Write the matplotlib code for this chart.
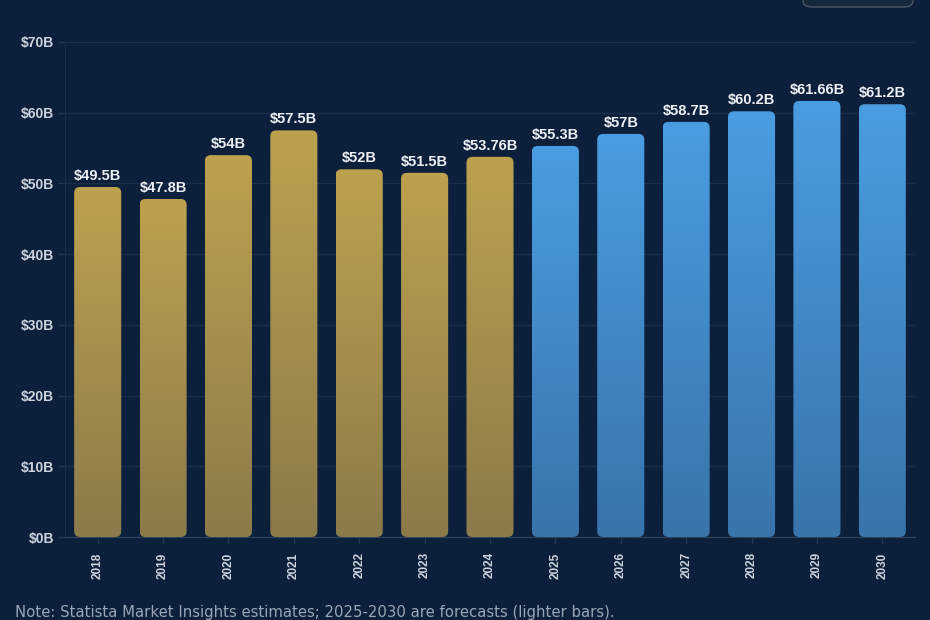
import numpy as np
import matplotlib.pyplot as plt
from matplotlib.patches import FancyBboxPatch
from matplotlib.colors import LinearSegmentedColormap

plt.rcParams['font.family'] = ['Liberation Sans', 'DejaVu Sans']

# Data (USD billions)
years = ["2018", "2019", "2020", "2021", "2022", "2023", "2024",
         "2025", "2026", "2027", "2028", "2029", "2030"]
values = [49.5, 47.8, 54, 57.5, 52, 51.5, 53.76,
          55.3, 57, 58.7, 60.2, 61.66, 61.2]
labels = ["$49.5B", "$47.8B", "$54B", "$57.5B", "$52B", "$51.5B", "$53.76B",
          "$55.3B", "$57B", "$58.7B", "$60.2B", "$61.66B", "$61.2B"]
forecast = [False] * 7 + [True] * 6

bg = "#0c1f3b"
gold = LinearSegmentedColormap.from_list("gold", ["#8b7b4a", "#bda14f"])
blue = LinearSegmentedColormap.from_list("blue", ["#3974ab", "#4a9de1"])

fig = plt.figure(figsize=(9.3, 6.2), dpi=100, facecolor=bg)
ax = fig.add_axes([65 / 930, 1 - 537 / 620, 850 / 930, 495 / 620])
ax.set_facecolor(bg)

# rounded bars with a vertical gradient
width = 0.72
aspect = (850 / 13) / (495 / 70)  # data-units ratio y/x per pixel
grad = np.linspace(0, 1, 256).reshape(-1, 1)
for i, (v, fc) in enumerate(zip(values, forecast)):
    x0 = i - width / 2
    patch = FancyBboxPatch((x0, 0), width, v,
                           boxstyle="round,pad=0,rounding_size=0.09",
                           mutation_aspect=aspect,
                           facecolor="none", edgecolor="none", zorder=3)
    ax.add_patch(patch)
    im = ax.imshow(grad, cmap=blue if fc else gold, origin="lower",
                   extent=[x0, x0 + width, 0, v], aspect="auto", zorder=3)
    im.set_clip_path(patch)
    ax.annotate(labels[i], (i, v), xytext=(0, 3), textcoords="offset points",
                ha="center", va="bottom", color="#eef2f7",
                fontsize=10.5, fontweight="bold", zorder=4)

ax.set_xlim(-0.5, len(years) - 0.5)
ax.set_ylim(0, 70)

# axes styling
ax.set_yticks(np.arange(0, 71, 10))
ax.set_yticklabels([f"${t}B" for t in range(0, 71, 10)])
ax.set_xticks(range(len(years)))
ax.set_xticklabels(years, rotation=90)
ax.grid(axis="y", color="#1a2e4a", linewidth=1, zorder=0)
ax.tick_params(axis="y", colors="#22364f", labelcolor="#cdd4df",
               labelsize=10, length=5, width=1, pad=3)
ax.tick_params(axis="x", colors="#22364f", labelcolor="#cdd4df",
               labelsize=8.5, length=5, width=1, pad=6)
for lab in ax.get_xticklabels() + ax.get_yticklabels():
    lab.set_fontweight("bold")
for side in ["top", "right"]:
    ax.spines[side].set_visible(False)
ax.spines["left"].set_color("#1a2e4a")
ax.spines["bottom"].set_color("#30445c")

# partially visible box at top right
box = FancyBboxPatch((803 / 930, 1 - 7 / 620), 110 / 930, 40 / 620,
                     boxstyle="round,pad=0,rounding_size=0.01",
                     transform=fig.transFigure, facecolor="#18283c",
                     edgecolor="#4c5563", linewidth=1)
fig.patches.append(box)

fig.text(15 / 930, 1 - 612 / 620, "Note: Statista Market Insights estimates; "
         "2025-2030 are forecasts (lighter bars).",
         color="#9aa6b6", fontsize=10.7, family="DejaVu Sans",
         ha="left", va="center")

fig.savefig("out.png", dpi=100, facecolor=bg)
